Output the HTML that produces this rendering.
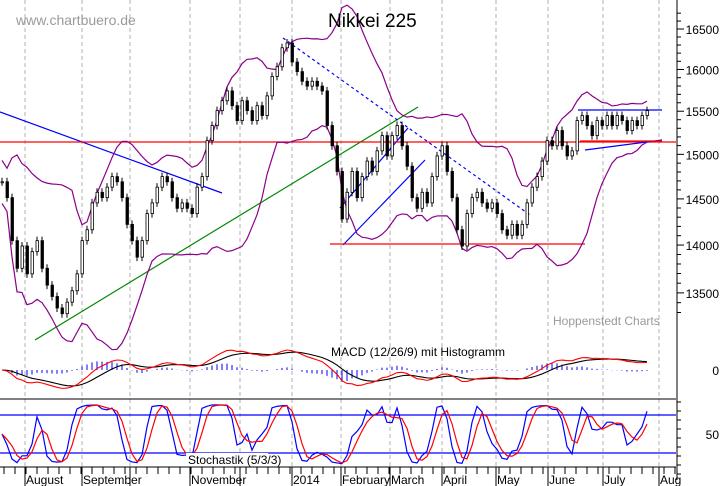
<!DOCTYPE html>
<html><head><meta charset="utf-8"><style>
html,body{margin:0;padding:0;background:#fff}
svg{display:block;font-family:"Liberation Sans",Arial,sans-serif}
</style></head><body>
<svg id="chart" width="723" height="486" viewBox="0 0 723 486" xmlns="http://www.w3.org/2000/svg">
<rect x="0" y="0" width="723" height="486" fill="#fff"/>
<g id="grid"></g>
<g id="trend"></g>
<g id="bands"></g>
<g id="candles"></g>
<g id="macd"></g>
<g id="stoch"></g>
<g id="axes"></g>
<text x="16" y="25" font-size="14" fill="#9a9a9a">www.chartbuero.de</text>
<text x="328" y="27" font-size="19" fill="#000">Nikkei 225</text>
<text x="553" y="325" font-size="12" fill="#9a9a9a">Hoppenstedt Charts</text>
<text x="331" y="356" font-size="12" fill="#000">MACD (12/26/9) mit Histogramm</text>
<rect x="186" y="453" width="82" height="13" fill="#fff"/>
<text x="188" y="464" font-size="12" fill="#000">Stochastik (5/3/3)</text>
</svg>
<script>
const closes=[14690,14514,14047,13755,13990,13697,13930,14047,13755,13580,13463,13346,13288,13405,13522,13697,14047,14164,14456,14573,14514,14630,14748,14690,14514,14222,14047,13872,14047,14339,14456,14630,14748,14690,14514,14397,14456,14397,14339,14630,14748,15157,15332,15507,15624,15741,15565,15390,15624,15507,15390,15565,15449,15682,15916,16033,16266,16325,16091,15974,15857,15799,15857,15799,15741,15332,15098,14806,14281,14573,14806,14514,14748,14923,14806,15040,15215,14982,15215,15332,15098,14865,14514,14397,14573,14456,14748,14982,15098,14806,14514,14164,13990,14339,14514,14573,14456,14397,14456,14339,14164,14105,14222,14105,14222,14456,14630,14748,14923,15157,15098,15274,15098,14982,15040,15390,15449,15332,15215,15390,15332,15449,15332,15449,15390,15274,15390,15332,15449,15507];
const priceTicks=[16500,16000,15500,15000,14500,14000,13500];
const monthLabels=["August","September","","November","","2014","February","March","April","May","June","July","Aug"];
const monthX=[25,82,130,190,240,292,341,390,442,496,548,603,659];
const stochTicks=[50];
const macdTicks=[0];

const NS="http://www.w3.org/2000/svg";
function mk(tag,attrs,parent){const e=document.createElementNS(NS,tag);for(const k in attrs)e.setAttribute(k,attrs[k]);parent.appendChild(e);return e;}
const yP=p=>29+1315*Math.log(16500/p);
const xI=i=>2+i*5;
const grid=document.getElementById('grid'),axes=document.getElementById('axes');

monthX.forEach((x,i)=>{const l=mk('line',{x1:x,y1:0,x2:x,y2:467,stroke:'#b0b0b0','stroke-dasharray':'4,3'},grid);

});

const tr=document.getElementById('trend');
const tl=[[0,112,222,193,'#0000ff',''],[35,340,418,107,'#008800',''],[283,38,530,215,'#0000ff','3,3'],[343,245,425,160,'#0000ff',''],[340,208,408,128,'#0000ff',''],[0,142,676,142,'#ff0000',''],[330,244,585,244,'#ff0000',''],[578,110,662,110,'#0000ff',''],[585,150,662,140,'#0000ff',''],[580,141,662,141,'#ff0000','']];
tl.forEach(t=>{const l=mk('line',{x1:t[0],y1:t[1],x2:t[2],y2:t[3],stroke:t[4],'stroke-width':1.2},tr);if(t[5])l.setAttribute('stroke-dasharray',t[5]);

});

const bands=document.getElementById('bands');
let up=[],lo=[];const W=15;
closes.forEach((c,i)=>{const s=closes.slice(Math.max(0,i-W+1),i+1);const m=s.reduce((a,b)=>a+b,0)/s.length;const sd=Math.sqrt(s.reduce((a,b)=>a+(b-m)*(b-m),0)/s.length);const sdd=Math.max(sd,120);
up.push([xI(i),yP(m+2*sdd)]);lo.push([xI(i),yP(m-2*sdd)]);});
[up,lo].forEach(arr=>{const p=mk('polyline',{points:arr.map(a=>a.join(',')).join(' '),fill:'none',stroke:'#8b008b','stroke-width':1.2},bands);

});

const cg=document.getElementById('candles');
closes.forEach((c,i)=>{const o=i?closes[i-1]:c;const x=xI(i);const y1=yP(Math.max(o,c)),y2=yP(Math.min(o,c));
const w=mk('line',{x1:x,y1:y1-4,x2:x,y2:y2+4,stroke:'#000'},cg);


const r=mk('rect',{x:x-1,y:y1,width:2.5,height:Math.max(1,y2-y1),fill:c<o?'#000':'#fff',stroke:'#000','stroke-width':0.8},cg);

});

function ema(a,n){const k=2/(n+1);let r=[a[0]];for(let i=1;i<a.length;i++)r.push(a[i]*k+r[i-1]*(1-k));return r;}
const e1=ema(closes,9),e2=ema(closes,20);const macd=e1.map((v,i)=>v-e2[i]);const sig=ema(macd,7);
const mx=Math.max(...macd.map(Math.abs),...sig.map(Math.abs));const yM=v=>370-v/mx*20;
const mg=document.getElementById('macd');
macd.forEach((v,i)=>{const h=v-sig[i];const b=mk('line',{x1:xI(i),y1:370,x2:xI(i),y2:yM(h),stroke:'#0000ff'},mg);

});
[[sig,'#000'],[macd,'#ff0000']].forEach(s=>{const p=mk('polyline',{points:s[0].map((v,i)=>xI(i)+','+yM(v)).join(' '),fill:'none',stroke:s[1],'stroke-width':1.1},mg);

});

const sg=document.getElementById('stoch');
const raw=closes.map((c,i)=>{const s=closes.slice(Math.max(0,i-4),i+1);const hi=Math.max(...s)+40,l=Math.min(...s)-40;return (c-l)/(hi-l)*100;});
const sma=(a,n)=>a.map((v,i)=>{const s=a.slice(Math.max(0,i-n+1),i+1);return s.reduce((x,y)=>x+y,0)/s.length;});
const K=sma(raw,2),D=sma(K,3);const yS=v=>434-(v-50)*0.633;
[80,20].forEach(v=>{const l=mk('line',{x1:0,y1:yS(v),x2:676,y2:yS(v),stroke:'#0000ff','stroke-width':1.2},sg);

});
[[K,'#0000ff'],[D,'#ff0000']].forEach(s=>{const p=mk('polyline',{points:s[0].map((v,i)=>xI(i)+','+yS(v)).join(' '),fill:'none',stroke:s[1],'stroke-width':1.2},sg);

});

[[0,399,676,399],[0,467,676,467],[677,0,677,480]].forEach(a=>{const l=mk('line',{x1:a[0],y1:a[1],x2:a[2],y2:a[3],stroke:'#000'},axes);

});
for(let p=13300;p<=16700;p+=100){const y=yP(p);if(y<0||y>340)continue;const maj=p%500===0;
const t=mk('line',{x1:677,y1:y,x2:maj?684:681,y2:y,stroke:'#000'},axes);

}
priceTicks.forEach(p=>{const t=mk('text',{x:719,y:yP(p)+5,'font-size':12,'text-anchor':'end'},axes);t.textContent=p;

});
macdTicks.forEach(v=>{const t=mk('text',{x:719,y:375,'font-size':12,'text-anchor':'end'},axes);t.textContent=v;

});
stochTicks.forEach(v=>{const t=mk('text',{x:719,y:yS(v)+5,'font-size':12,'text-anchor':'end'},axes);t.textContent=v;

});
for(let y=402;y<480;y+=9){const t=mk('line',{x1:677,y1:y,x2:681,y2:y,stroke:'#000'},axes);

}
for(let x=4;x<676;x+=11){const t=mk('line',{x1:x,y1:467,x2:x,y2:474,stroke:'#000'},axes);

}
monthX.forEach((x,i)=>{const t=mk('line',{x1:x,y1:467,x2:x,y2:486,stroke:'#000'},axes);


if(monthLabels[i]){const s=mk('text',{x:x+1,y:484,'font-size':12},axes);s.textContent=monthLabels[i];

}});
</script>
</body></html>
